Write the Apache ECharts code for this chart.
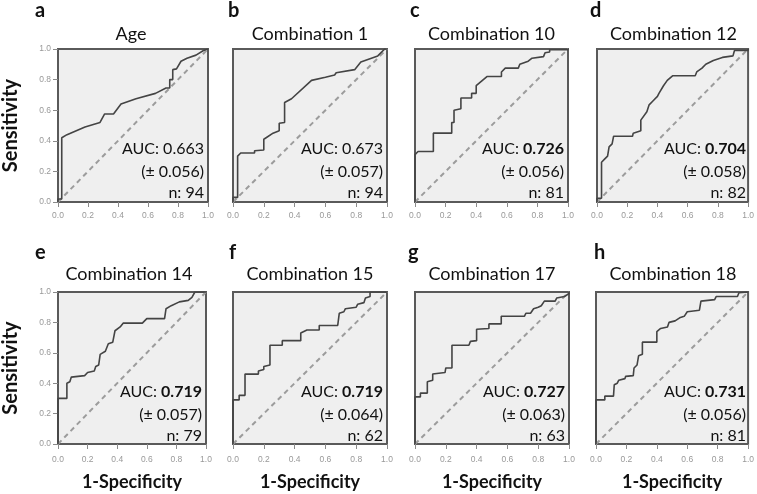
<!DOCTYPE html>
<html><head><meta charset="utf-8">
<script src="https://cdn.jsdelivr.net/npm/echarts@6/dist/echarts.min.js"></script>
<style>html,body{margin:0;padding:0;background:#fff}#c{width:757px;height:494px}</style>
</head><body><div id="c"></div>
<script>
// ---------- data ----------
const letters = ['a','b','c','d','e','f','g','h'];
const titles = ['Age','Combination 1','Combination 10','Combination 12','Combination 14','Combination 15','Combination 17','Combination 18'];
const aucValues = ['0.663','0.673','0.726','0.704','0.719','0.719','0.727','0.731'];
const aucSE = ['0.056','0.057','0.056','0.058','0.057','0.064','0.063','0.056'];
const nValues = [94,94,81,82,79,62,63,81];
const aucBold = [false,false,true,true,true,true,true,true];
const tickValues = [0,0.2,0.4,0.6,0.8,1.0];
const diagonal = [[0,0],[1,1]];

const curveA = [[0,0],[0,0.02],[0.025,0.02],[0.025,0.42],[0.06,0.44],[0.18,0.49],[0.28,0.52],[0.31,0.575],[0.37,0.575],[0.42,0.64],[0.52,0.675],[0.65,0.71],[0.72,0.745],[0.745,0.745],[0.745,0.8],[0.765,0.8],[0.765,0.865],[0.79,0.87],[0.82,0.92],[0.86,0.94],[0.92,0.96],[0.97,0.99],[1,1]];
const curveB = [[0,0],[0,0.03],[0.03,0.03],[0.03,0.3],[0.05,0.32],[0.14,0.32],[0.14,0.335],[0.2,0.34],[0.2,0.41],[0.215,0.42],[0.26,0.45],[0.3,0.465],[0.3,0.515],[0.335,0.52],[0.335,0.65],[0.38,0.675],[0.51,0.795],[0.6,0.815],[0.66,0.83],[0.67,0.845],[0.79,0.865],[0.83,0.915],[0.94,0.955],[0.985,1],[1,1]];
const curveC = [[0,0],[0,0.31],[0.02,0.33],[0.12,0.33],[0.12,0.45],[0.24,0.45],[0.24,0.52],[0.255,0.52],[0.255,0.6],[0.3,0.61],[0.3,0.68],[0.37,0.68],[0.37,0.71],[0.4,0.71],[0.4,0.76],[0.435,0.79],[0.47,0.82],[0.565,0.82],[0.565,0.85],[0.59,0.875],[0.675,0.875],[0.685,0.9],[0.74,0.92],[0.765,0.94],[0.84,0.95],[0.85,0.975],[0.88,0.98],[0.88,0.995],[1,0.995],[1,1]];
const curveD = [[0,0],[0,0.025],[0.03,0.025],[0.03,0.26],[0.05,0.28],[0.07,0.3],[0.08,0.36],[0.1,0.38],[0.11,0.43],[0.235,0.43],[0.24,0.45],[0.29,0.465],[0.29,0.535],[0.33,0.59],[0.345,0.635],[0.37,0.66],[0.4,0.69],[0.41,0.71],[0.44,0.76],[0.465,0.795],[0.5,0.825],[0.65,0.825],[0.66,0.85],[0.695,0.875],[0.72,0.9],[0.77,0.925],[0.83,0.945],[0.9,0.955],[0.91,0.99],[1,0.99],[1,1]];
const curveE = [[0,0],[0,0.3],[0.06,0.3],[0.06,0.4],[0.08,0.41],[0.09,0.44],[0.18,0.45],[0.2,0.47],[0.245,0.48],[0.255,0.51],[0.275,0.52],[0.285,0.59],[0.32,0.61],[0.34,0.66],[0.37,0.67],[0.385,0.745],[0.42,0.77],[0.44,0.795],[0.57,0.795],[0.6,0.825],[0.72,0.825],[0.73,0.89],[0.765,0.91],[0.82,0.935],[0.88,0.945],[0.905,0.965],[0.925,1],[1,1]];
const curveF = [[0,0],[0,0.29],[0.04,0.29],[0.04,0.32],[0.078,0.32],[0.078,0.46],[0.165,0.46],[0.165,0.48],[0.2,0.49],[0.2,0.51],[0.24,0.52],[0.24,0.65],[0.32,0.65],[0.32,0.68],[0.44,0.68],[0.44,0.73],[0.48,0.75],[0.56,0.75],[0.56,0.78],[0.68,0.78],[0.69,0.86],[0.72,0.87],[0.73,0.89],[0.8,0.9],[0.81,0.92],[0.85,0.93],[0.86,0.96],[0.89,0.97],[0.89,1],[1,1]];
const curveG = [[0,0],[0,0.31],[0.035,0.31],[0.035,0.335],[0.08,0.335],[0.08,0.41],[0.115,0.42],[0.115,0.46],[0.195,0.47],[0.2,0.5],[0.24,0.5],[0.24,0.65],[0.35,0.65],[0.36,0.675],[0.4,0.68],[0.4,0.755],[0.48,0.76],[0.48,0.79],[0.56,0.79],[0.56,0.84],[0.71,0.84],[0.72,0.86],[0.75,0.86],[0.77,0.89],[0.8,0.9],[0.82,0.91],[0.84,0.94],[0.91,0.94],[0.92,0.96],[0.97,0.97],[1,0.99],[1,1]];
const curveH = [[0,0],[0,0.29],[0.058,0.29],[0.058,0.315],[0.115,0.315],[0.12,0.39],[0.14,0.4],[0.15,0.42],[0.19,0.43],[0.195,0.445],[0.245,0.45],[0.25,0.5],[0.27,0.52],[0.28,0.58],[0.305,0.59],[0.305,0.67],[0.4,0.67],[0.4,0.74],[0.425,0.76],[0.47,0.77],[0.48,0.8],[0.52,0.81],[0.55,0.83],[0.58,0.84],[0.6,0.87],[0.61,0.88],[0.68,0.88],[0.69,0.94],[0.78,0.95],[0.79,0.97],[0.93,0.97],[0.94,0.995],[1,1]];
const curves = [curveA,curveB,curveC,curveD,curveE,curveF,curveG,curveH];

// ---------- layout ----------
const boxes = [
  {left:54,top:49,width:154,height:153},
  {left:233,top:49,width:154,height:153},
  {left:415,top:49,width:153,height:153},
  {left:597,top:49,width:153,height:153},
  {left:52,top:292,width:154,height:152},
  {left:233,top:292,width:154,height:152},
  {left:415,top:292,width:154,height:152},
  {left:596,top:292,width:154,height:152}
];
const letterX = [35,228,410,590,35,229,408,594];
const FONT = 'Lato, "Open Sans", sans-serif';

const chart = echarts.init(document.getElementById('c'), null, {renderer:'canvas'});
const grid = [], xAxis = [], yAxis = [], series = [], graphic = [];

boxes.forEach((b, i) => {
  const bottomRow = i >= 4;
  const firstCol = i % 4 === 0;
  grid.push({left:b.left, top:b.top, width:b.width, height:b.height, show:true,
    backgroundColor:'#efefef', borderColor:'#5a5a5a', borderWidth:2, containLabel:false});
  xAxis.push({gridIndex:i, type:'value', min:tickValues[0], max:tickValues[tickValues.length-1], interval:0.2,
    axisLine:{show:true, onZero:false, lineStyle:{color:'#5a5a5a', width:2}},
    axisTick:{show:true, length:5, lineStyle:{color:'#8a8a8a', width:1}},
    axisLabel:{margin: bottomRow ? 11 : 9, fontSize:8.5, color:'#999', fontFamily:'"Liberation Sans", Arial, sans-serif',
      formatter: v => v.toFixed(1)},
    splitLine:{show:false},
    name: bottomRow ? '1-Specificity' : '', nameLocation:'middle', nameGap:29,
    nameTextStyle:{fontFamily:FONT, fontWeight:'bold', fontSize:18, color:'#111'}
  });
  yAxis.push({gridIndex:i, type:'value', min:tickValues[0], max:tickValues[tickValues.length-1], interval:0.2,
    axisLine:{show:true, onZero:false, lineStyle:{color:'#5a5a5a', width:2}},
    axisTick:{show:firstCol, length:5, lineStyle:{color:'#8a8a8a', width:1}},
    axisLabel:{show:firstCol, margin:7, fontSize:8.5, color:'#999', fontFamily:'"Liberation Sans", Arial, sans-serif',
      formatter: v => v.toFixed(1)},
    splitLine:{show:false},
    name: firstCol ? 'Sensitivity' : '', nameLocation:'middle', nameGap:37, nameRotate:90,
    nameTextStyle:{fontFamily:FONT, fontWeight:'bold', fontSize:20, color:'#111'}
  });
  series.push({type:'line', xAxisIndex:i, yAxisIndex:i, data:diagonal, symbol:'none', silent:true,
    lineStyle:{color:'#9c9c9c', width:2, type:[5,4]}, z:2, animation:false});
  series.push({type:'line', xAxisIndex:i, yAxisIndex:i, data:curves[i], symbol:'none', silent:true,
    lineStyle:{color:'#444', width:1.6}, z:3, animation:false});

  const cx = b.left + b.width / 2;
  const right = b.left + b.width - 4;
  graphic.push({type:'text', x:cx, y: bottomRow ? 274 : 34,
    style:{text:titles[i], font:'18px ' + FONT, fill:'#111', align:'center', verticalAlign:'middle'}});
  graphic.push({type:'text', x:letterX[i], y: bottomRow ? 253 : 11,
    style:{text:letters[i], font:'bold 20px ' + FONT, fill:'#111', align:'left', verticalAlign:'middle'}});
  graphic.push({type:'text', x:right, y:b.top + 100, z:10,
    style:{text:'{n|AUC: }{' + (aucBold[i] ? 'b' : 'n') + '|' + aucValues[i] + '}', align:'right', verticalAlign:'middle',
      rich:{n:{font:'16px ' + FONT, fill:'#111'}, b:{font:'bold 16px ' + FONT, fill:'#111'}}}});
  graphic.push({type:'text', x:right, y:b.top + 123, z:10,
    style:{text:'(\u00B1 ' + aucSE[i] + ')', font:'16px ' + FONT, fill:'#111', align:'right', verticalAlign:'middle'}});
  graphic.push({type:'text', x:right, y:b.top + 144, z:10,
    style:{text:'n: ' + nValues[i], font:'16px ' + FONT, fill:'#111', align:'right', verticalAlign:'middle'}});
});

chart.setOption({animation:false, backgroundColor:'#fff', grid, xAxis, yAxis, series, graphic});
</script></body></html>
